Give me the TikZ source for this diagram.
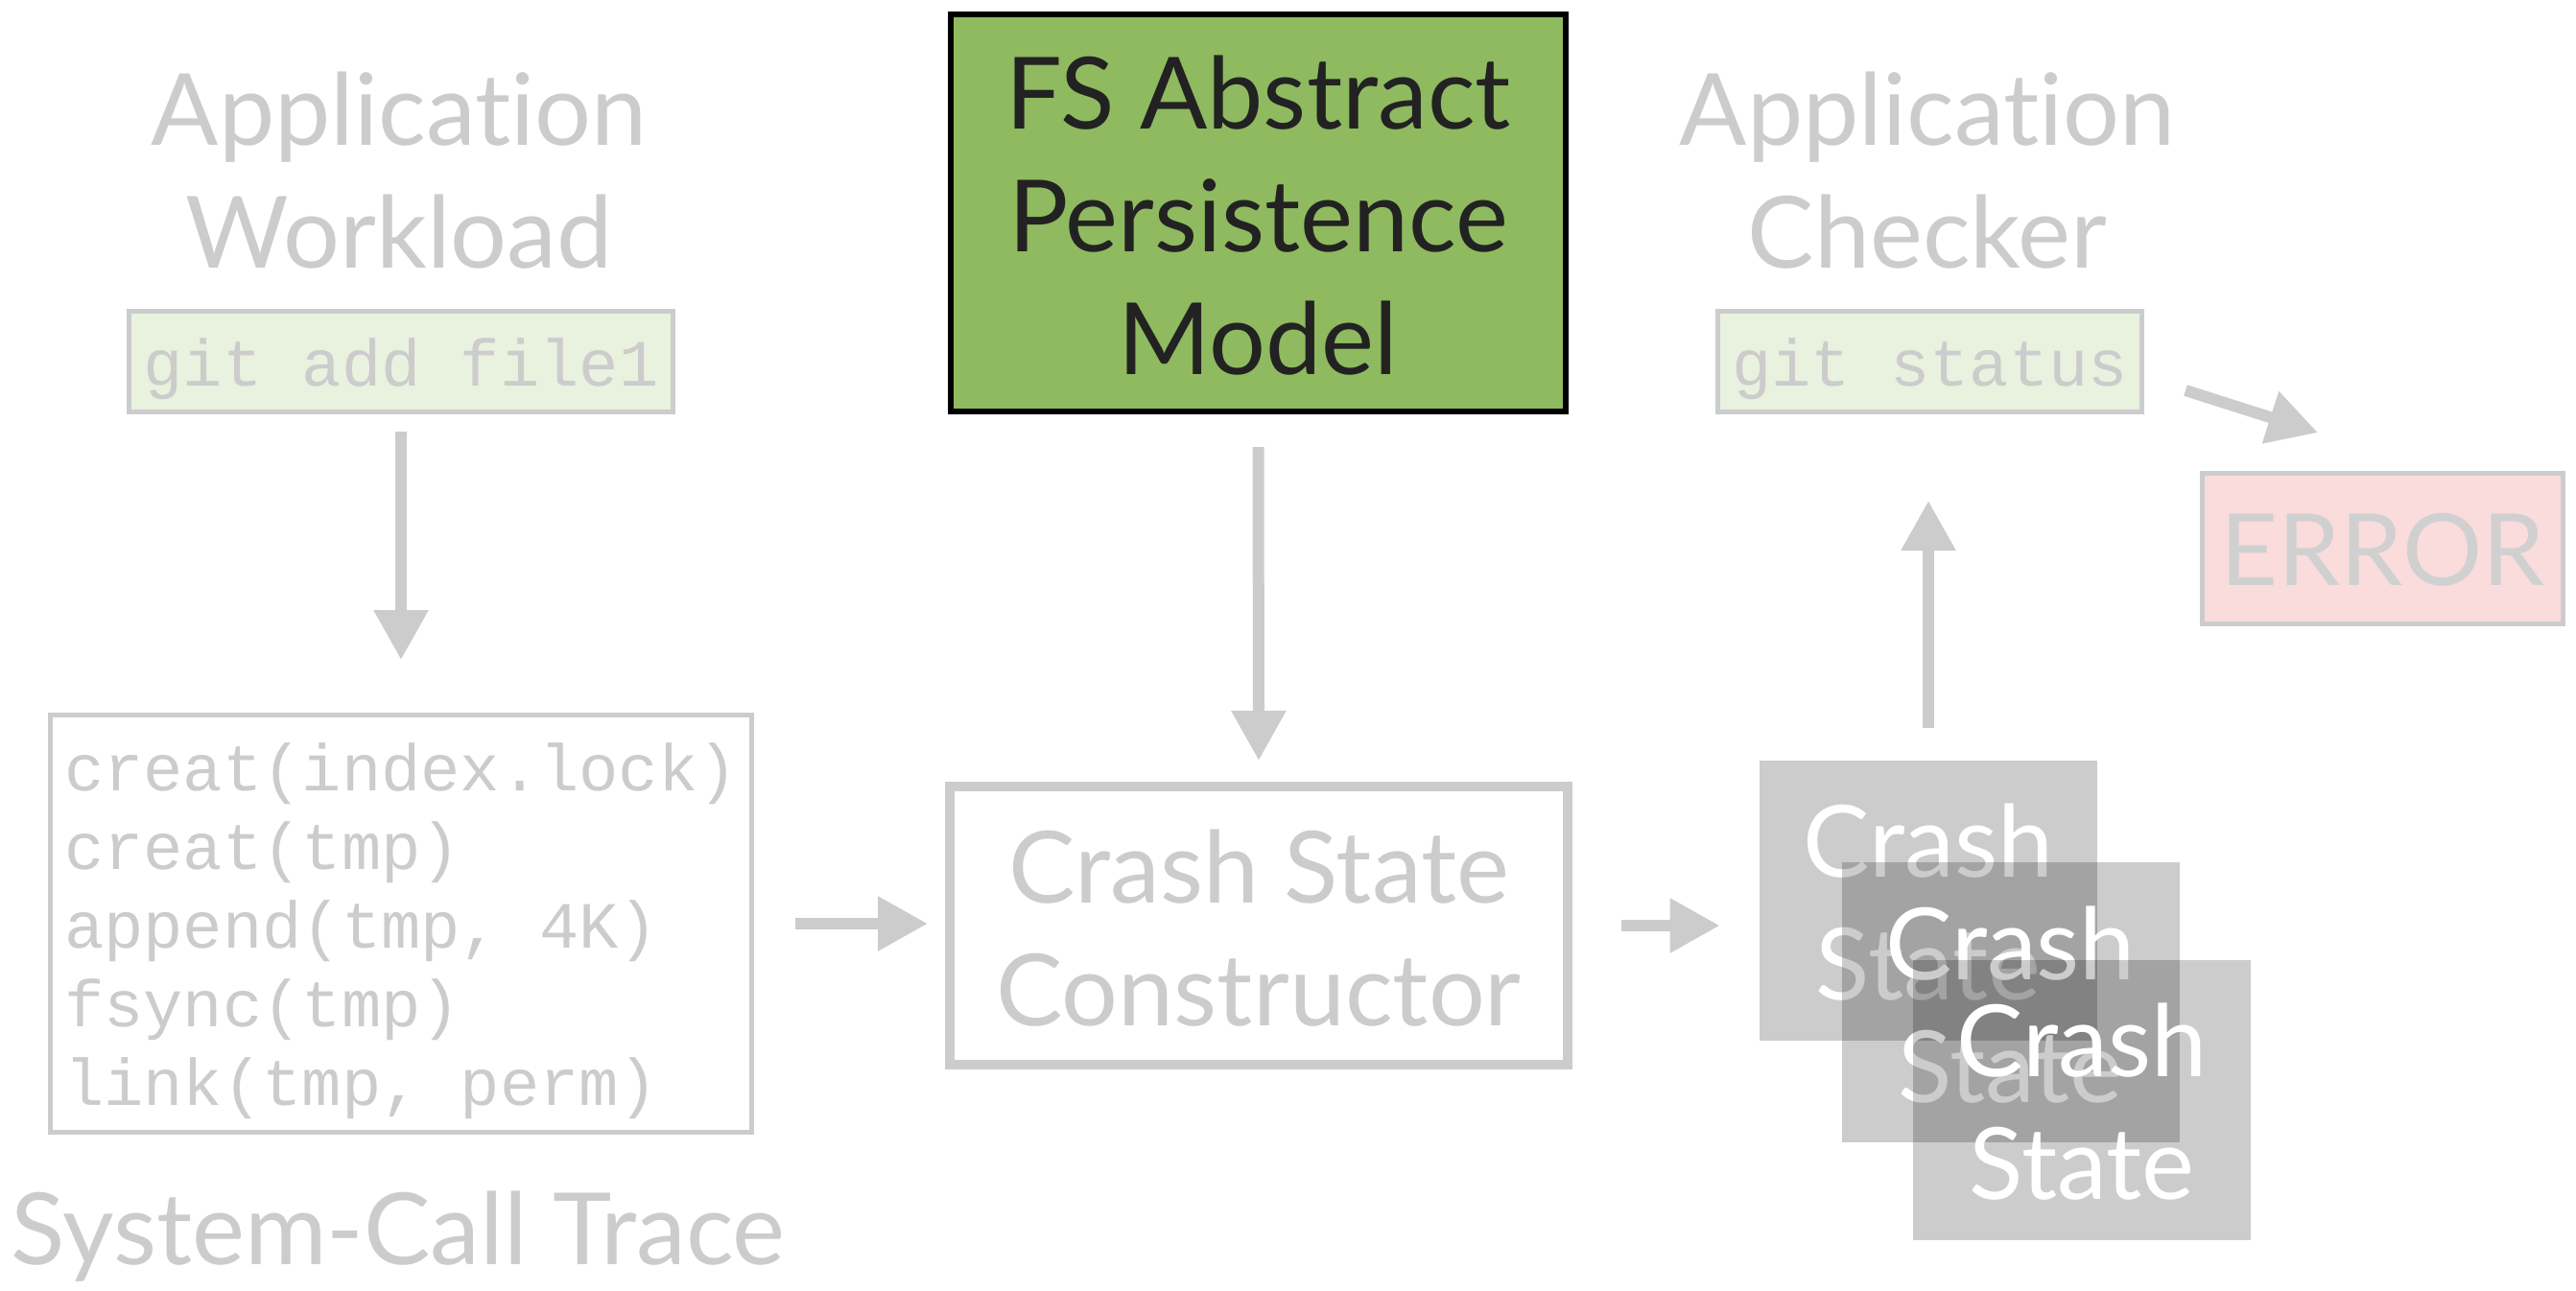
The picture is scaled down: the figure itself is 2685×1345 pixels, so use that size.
\documentclass[tikz,border=0pt]{standalone}
\usepackage{fontspec}
\setmainfont{Lato}[Ligatures=CommonOff]
\newfontfamily\codefont{Liberation Mono}
\usetikzlibrary{arrows.meta}
\definecolor{paleline}{HTML}{CCCCCC}
\definecolor{palegreen}{HTML}{E9F1DF}
\definecolor{modelgreen}{HTML}{8FBA60}
\definecolor{modeltext}{HTML}{222222}
\definecolor{palered}{HTML}{FADCDC}
\definecolor{errtext}{HTML}{D0D0D0}
\begin{document}
\begin{tikzpicture}[x=0.5pt,y=-0.5pt,
  bigfont/.style={font=\fontsize{52}{64}\selectfont},
  codefnt/.style={font=\codefont\fontsize{34.4}{41.1}\selectfont},
  % multi-line node text sits on its last baseline
  title/.style={bigfont, inner sep=0pt, text=paleline, align=center,
    text height=104pt, text depth=0pt},
  codebox/.style={codefnt, draw=paleline, line width=2.5pt, fill=palegreen,
    text=paleline, inner sep=0pt, minimum height=52.5pt,
    text height=25pt, text depth=0pt},
  tracebox/.style={codefnt, draw=paleline, line width=2.5pt, text=paleline,
    align=left, inner sep=0pt, minimum width=365.5pt, minimum height=217.5pt,
    text height=189.8pt, text depth=0pt},
  modelbox/.style={bigfont, draw=black, line width=3pt, fill=modelgreen,
    text=modeltext, align=center, inner sep=0pt,
    minimum width=320.5pt, minimum height=207pt,
    text height=168pt, text depth=0pt},
  ctorbox/.style={bigfont, draw=paleline, line width=5pt, text=paleline,
    align=center, inner sep=0pt, minimum width=322pt, minimum height=145pt,
    text height=104pt, text depth=0pt},
  statebox/.style={bigfont, fill=black, fill opacity=0.2, text opacity=1,
    text=white, align=center, inner sep=0pt,
    minimum width=176pt, minimum height=146pt,
    text height=104pt, text depth=0pt},
  errbox/.style={bigfont, draw=paleline, line width=2.5pt, fill=palered,
    text=errtext, inner sep=0pt, minimum width=188pt, minimum height=78.5pt,
    text height=38pt, text depth=0pt},
  flow/.style={draw=paleline, line width=6pt,
    -{Triangle[length=26pt,width=27pt]}}
]
\useasboundingbox (0,0) rectangle (2685,1345);

% left column: workload and its system-call trace
\node[title] (wl) at (416,175) {Application\\Workload};
\node[codebox, minimum width=283.5pt] (gitadd) at (418,377) {git add file1};
\node[tracebox] (trace) at (418,963)
  {creat(index.lock)\\creat(tmp)\\append(tmp, 4K)\\fsync(tmp)\\link(tmp, perm)};
\node[bigfont, text=paleline, anchor=base, inner sep=0pt] (sct) at (415,1318)
  {System-Call Trace};

% middle column: persistence model and crash-state constructor
\node[modelbox] (fs) at (1311.5,222) {FS Abstract\\Persistence\\Model};
\node[ctorbox] (ctor) at (1312,965) {Crash State\\Constructor};

% right column: stacked crash states, checker and error
\node[statebox] (cs1) at (2010,938.5) {Crash\\State};
\node[statebox] (cs2) at (2095.5,1045) {Crash\\State};
\node[statebox] (cs3) at (2170,1146.5) {Crash\\State};
\node[title] (chk) at (2009,175) {Application\\Checker};
\node[codebox, minimum width=221pt] (gitst) at (2011.5,377) {git status};
\node[errbox] (err) at (2483.5,572) {ERROR};

% connectors
\draw[flow, shorten <=9pt, shorten >=27.5pt] (gitadd.south) -- (trace.north);
\draw[flow, shorten <=21.5pt, shorten >=9pt] (trace.east) -- (trace.east -| ctor.west);
\draw[flow, shorten <=17pt, shorten >=11pt] (fs.south) -- (ctor.north);
\draw[flow, shorten <=25.5pt, shorten >=20.5pt] (ctor.east) -- (ctor.east -| cs1.west);
\draw[flow, shorten <=16.5pt, shorten >=45pt] (cs1.north) -- (cs1.north |- gitst.south);
\coordinate (errtip) at ([shift={(123,-40)}]err.north west);
\draw[flow] ([shift={(43,30)}]gitst.east) -- (errtip);
\end{tikzpicture}
\end{document}
